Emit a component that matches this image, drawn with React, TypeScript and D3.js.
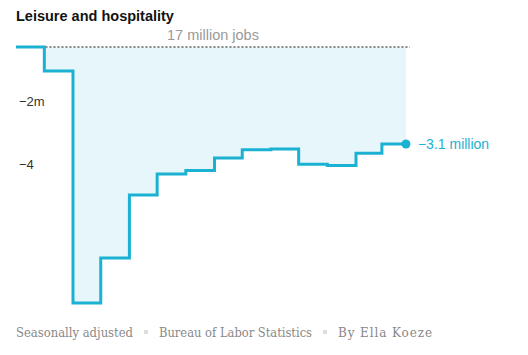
import React from "react";
import * as d3 from "d3";

const months: string[] = [
  "2020-02-01", "2020-03-01", "2020-04-01", "2020-05-01", "2020-06-01", "2020-07-01",
  "2020-08-01", "2020-09-01", "2020-10-01", "2020-11-01", "2020-12-01", "2021-01-01",
  "2021-02-01", "2021-03-01",
];
const changeMillions: number[] = [
  0, -0.76, -8.13, -6.7, -4.7, -4.03, -3.92, -3.52, -3.26, -3.24, -3.72, -3.76, -3.37, -3.08,
];
const endDate = "2021-03-27";
const yTicks: number[] = [-2, -4];
const yTickLabels: string[] = ["−2m", "−4"];

const W = 528;
const H = 355;
const COLOR = "#1bb1d2";
const SANS = "'Liberation Sans', Arial, sans-serif";
const SERIF = "'DejaVu Serif', Georgia, serif";

export default function App() {
  const parse = (s: string) => new Date(s + "T00:00:00");
  const data = months.map((m, i) => ({ date: parse(m), v: changeMillions[i] }));
  const last = data[data.length - 1];
  const full = [...data, { date: parse(endDate), v: last.v }];

  const x = d3
    .scaleTime()
    .domain([parse("2020-02-01"), parse("2021-03-01")])
    .range([17.5, 381.9]);
  const y = d3.scaleLinear().domain([0, -4]).range([47, 173]);

  const line = d3
    .line<{ date: Date; v: number }>()
    .x((d) => x(d.date))
    .y((d) => y(d.v))
    .curve(d3.curveStepAfter);
  const area = d3
    .area<{ date: Date; v: number }>()
    .x((d) => x(d.date))
    .y0(y(0))
    .y1((d) => y(d.v))
    .curve(d3.curveStepAfter);

  const endX = x(parse(endDate));
  const endY = y(last.v);

  return (
    <svg
      width={W}
      height={H}
      style={{ position: "absolute", left: 0, top: 0, background: "#fff" }}
    >
      <text x={16} y={21} fontFamily={SANS} fontWeight="bold" fontSize={14.5} fill="#121212">
        Leisure and hospitality
      </text>
      <path d={area(full) || ""} fill="#e7f6fa" />
      {yTicks.map((t, i) => (
        <g key={t}>
          <text x={19} y={y(t) - 4} fontFamily={SANS} fontSize={13} fill="#333">
            {yTickLabels[i]}
          </text>
        </g>
      ))}
      <line
        x1={x(parse("2020-02-01"))}
        x2={endX + 4}
        y1={y(0)}
        y2={y(0)}
        stroke="#888"
        strokeWidth={2}
        strokeDasharray="2,2"
      />
      <text x={213} y={40} textAnchor="middle" fontFamily={SANS} fontSize={14.5} fill="#999">
        17 million jobs
      </text>
      <path
        d={line(full) || ""}
        fill="none"
        stroke={COLOR}
        strokeWidth={3}
        strokeLinejoin="miter"
        strokeLinecap="square"
      />
      <circle cx={endX} cy={endY} r={4.5} fill={COLOR} />
      <text x={endX + 12} y={endY + 5} fontFamily={SANS} fontSize={14} fill={COLOR}>
        {"−" + Math.abs(Math.round(last.v * 10) / 10) + " million"}
      </text>
      <g fontFamily={SERIF} fontSize={12} fill="#888">
        <text x={16} y={337} textLength={117} lengthAdjust="spacingAndGlyphs">Seasonally adjusted</text>
        <rect x={144} y={330} width={4} height={4} fill="#ddd" />
        <text x={159} y={337} textLength={153} lengthAdjust="spacingAndGlyphs">Bureau of Labor Statistics</text>
        <rect x={323} y={330} width={4} height={4} fill="#ddd" />
        <text x={338} y={337} letterSpacing={0.9}>By Ella Koeze</text>
      </g>
    </svg>
  );
}
